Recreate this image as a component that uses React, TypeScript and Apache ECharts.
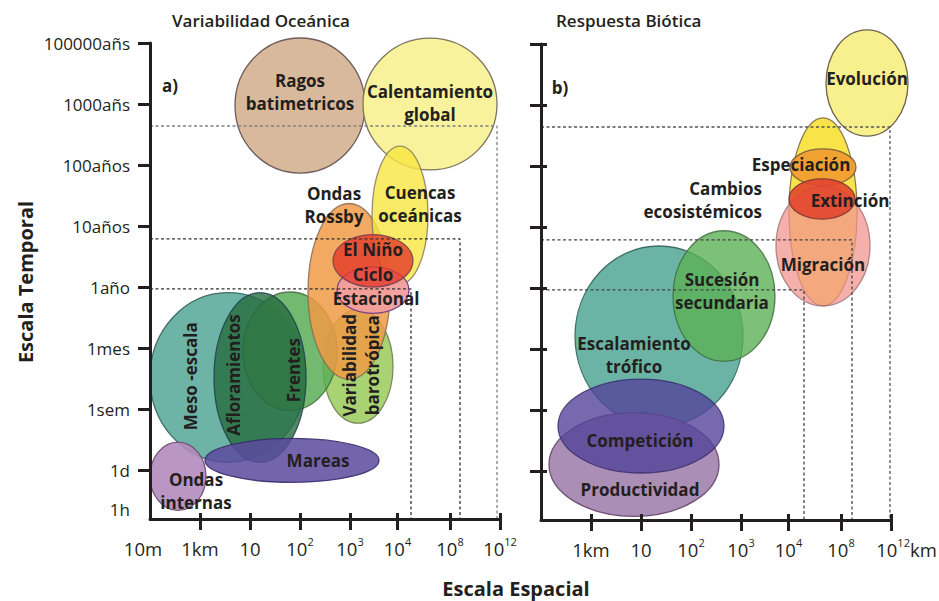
import React, { useEffect, useRef } from 'react';
import * as echarts from 'echarts';

const FONT = '"Open Sans", "Noto Sans", sans-serif';
const INK = '#231f20';

// ---- axes ----
const yTickValues = [1, 2, 3, 4, 5, 6, 7, 8];
const yLabelValues = [0.35, 1, 2, 3, 4, 5, 6, 7, 8];
const yLabels = ['1h', '1d', '1sem', '1mes', '1año', '10años', '100años', '1000añs', '100000añs'];
const xTickValues = [1, 2, 3, 4, 4.95, 6, 7];
const xLabelValuesLeft = [0, 1, 2, 3, 4, 4.95, 6, 7];
const xLabelsLeft = ['10m', '1km', '10', '10^2', '10^3', '10^4', '10^8', '10^12'];
const xLabelValuesRight = [1, 2, 3, 4, 4.95, 6, 7];
const xLabelsRight = ['1km', '10', '10^2', '10^3', '10^4', '10^8', '10^12km'];

// ---- panel a) Variabilidad Oceánica : ellipse extents in axis units ----
const oceanNames = ['Ragos batimetricos', 'Calentamiento global', 'Variabilidad barotrópica', 'Meso-escala', 'Frentes', 'Afloramientos', 'Ondas Rossby', 'Cuencas oceánicas', 'Ciclo Estacional', 'El Niño', 'Mareas', 'Ondas internas'];
const oceanX = [3.0, 5.6, 4.16, 1.56, 2.8, 2.2, 3.98, 5.0, 4.46, 4.46, 2.84, 0.56];
const oceanY = [6.975, 7.0, 2.7, 2.52, 2.95, 2.52, 3.93, 5.18, 3.95, 4.43, 1.16, 0.9];
const oceanRx = [1.3, 1.34, 0.7, 1.56, 0.94, 0.92, 0.82, 0.56, 0.72, 0.8, 1.74, 0.56];
const oceanRy = [1.107, 1.08, 0.93, 1.39, 0.97, 1.39, 1.44, 1.13, 0.38, 0.43, 0.36, 0.56];
const oceanFill = ['#D9B99B', '#F8F29C', '#A9D372', '#6DB4A6', '#5BAE57', '#256B3E', '#F09A45', '#F7E640', '#F29E9C', '#E5392B', '#5A4A9E', '#B38BBE'];
const oceanStroke = ['#6E5D5D', '#7D7460', '#7A8A5A', '#3F7068', '#3F6A40', '#1E3A50', '#8A6A50', '#7D7460', '#6E3A8A', '#6A3A50', '#35286A', '#6A4A70'];
const oceanAlpha = [1, 1, 1, 1, 0.85, 0.8, 0.85, 0.8, 0.95, 0.8, 0.85, 0.9];

const oceanLabels = ['Ragos\nbatimetricos', 'Calentamiento\nglobal', 'Cuencas\noceánicas', 'Ondas\nRossby', 'El Niño', 'Ciclo', 'Estacional', 'Variabilidad\nbarotrópica', 'Meso -escala', 'Afloramientos', 'Frentes', 'Mareas', 'Ondas\ninternas', 'a)'];
const oceanLabelX = [3.0, 5.6, 5.4, 3.68, 4.46, 4.46, 4.52, 4.22, 0.8, 1.66, 2.86, 3.36, 0.92, 0.4];
const oceanLabelY = [7.2, 7.02, 5.36, 5.34, 4.61, 4.2, 3.82, 2.72, 2.54, 2.56, 2.64, 1.16, 0.66, 7.31];
const oceanLabelAngle = [0, 0, 0, 0, 0, 0, 0, 90, 90, 90, 90, 0, 0, 0];
const oceanLabelAlign = ['center', 'center', 'center', 'center', 'center', 'center', 'center', 'center', 'center', 'center', 'center', 'center', 'center', 'center'];

const oceanGuides = [
  [[0, 6.64], [6.94, 6.64], [6.94, 0.2]],
  [[0, 4.79], [6.2, 4.79], [6.2, 0.2]],
  [[0, 3.97], [5.22, 3.97], [5.22, 0.2]],
];
const oceanGuideColor = ['#808080', '#333333', '#333333'];

// ---- panel b) Respuesta Biótica ----
const bioNames = ['Evolución', 'Especiación (envolvente)', 'Migración', 'Especiación', 'Extinción', 'Escalamiento trófico', 'Sucesión secundaria', 'Productividad', 'Competición'];
const bioX = [6.52, 5.64, 5.64, 5.64, 5.62, 2.36, 3.66, 1.86, 2.0];
const bioY = [7.36, 5.25, 4.69, 5.98, 5.46, 3.21, 3.87, 1.11, 1.74];
const bioRx = [0.82, 0.68, 0.94, 0.66, 0.66, 1.68, 1.02, 1.7, 1.66];
const bioRy = [0.87, 1.54, 0.98, 0.3, 0.33, 1.48, 1.07, 0.85, 0.77];
const bioFill = ['#F8F08C', '#F8E448', '#F2968F', '#F09A2E', '#E2452E', '#6BB4A5', '#5DB055', '#A788B1', '#54449A'];
const bioStroke = ['#6E6450', '#8A7A50', '#9A6A6A', '#7A5A40', '#7A3A3A', '#3F7068', '#3F6A40', '#6A4A70', '#35286A'];
const bioAlpha = [1, 1, 0.75, 0.9, 0.9, 1, 0.8, 0.95, 0.8];

const bioLabels = ['Evolución', 'Especiación', 'Cambios\necosistémicos', 'Extinción', 'Migración', 'Sucesión\nsecundaria', 'Escalamiento\ntrófico', 'Competición', 'Productividad', 'b)'];
const bioLabelX = [6.52, 5.2, 4.42, 6.18, 5.64, 3.62, 1.86, 1.98, 1.98, 0.38];
const bioLabelY = [7.44, 6.02, 5.44, 5.43, 4.39, 3.95, 2.9, 1.51, 0.7, 7.28];
const bioLabelAngle = [0, 0, 0, 0, 0, 0, 0, 0, 0, 0];
const bioLabelAlign = ['center', 'center', 'right', 'center', 'center', 'center', 'center', 'center', 'center', 'center'];

const bioGuides = [
  [[0, 6.64], [6.98, 6.64], [6.98, 0.2]],
  [[0, 4.79], [6.22, 4.79], [6.22, 0.2]],
  [[0, 3.97], [5.26, 3.97], [5.26, 0.2]],
];
const bioGuideColor = ['#555555', '#444444', '#444444'];

function xFormatter(labels: string[], values: number[]) {
  return (v: number) => {
    const i = values.findIndex((p) => Math.abs(p - v) < 1e-6);
    if (i < 0) return '';
    const t = labels[i];
    const m = t.match(/^(\d+)\^(\d+)(.*)$/);
    if (!m) return v === 0 ? `{n|${t}}{q|}` : `{n|${t}}`;
    return (m[3] ? '{p|}' : '') + `{n|${m[1]}}{s|${m[2]}}` + (m[3] ? `{n|${m[3]}}` : '');
  };
}

const xRich = {
  n: { fontSize: 18.5, fontFamily: FONT, color: INK, lineHeight: 24 },
  s: { fontSize: 11, fontFamily: FONT, color: INK, lineHeight: 14, verticalAlign: 'top' },
  p: { width: 31 },
  q: { width: 14 },
};

function ellipseRenderer(fills: string[], strokes: string[], alphas: number[]) {
  return (params: any, api: any) => {
    const i = params.dataIndex;
    const c = api.coord([api.value(0), api.value(1)]);
    const s = api.size([api.value(2), api.value(3)]);
    return {
      type: 'ellipse',
      shape: { cx: c[0], cy: c[1], rx: s[0], ry: s[1] },
      style: { fill: fills[i], stroke: strokes[i], lineWidth: 1.3, opacity: alphas[i] },
    };
  };
}

function labelRenderer(texts: string[], angles: number[], aligns: string[]) {
  return (params: any, api: any) => {
    const i = params.dataIndex;
    const c = api.coord([api.value(0), api.value(1)]);
    return {
      type: 'text',
      x: c[0],
      y: c[1],
      rotation: (angles[i] * Math.PI) / 180,
      style: {
        text: texts[i],
        fill: INK,
        fontSize: 17,
        fontWeight: 'bold',
        fontFamily: FONT,
        align: aligns[i],
        verticalAlign: 'middle',
        lineHeight: 23,
      },
    };
  };
}

function axisBase(gridIndex: number) {
  return {
    gridIndex,
    type: 'value' as const,
    min: 0,
    max: 7,
    splitLine: { show: false },
  };
}

export default function App() {
  const ref = useRef<HTMLDivElement>(null);
  useEffect(() => {
    if (!ref.current) return;
    const chart = echarts.init(ref.current, undefined, { renderer: 'svg' });
    const lineStyle = { color: INK, width: 3 };

    const guideSeries = (guides: number[][][], colors: string[], xi: number, yi: number) =>
      guides.map((g, k) => ({
        type: 'line',
        xAxisIndex: xi,
        yAxisIndex: yi,
        data: g,
        symbol: 'none',
        silent: true,
        z: 3,
        lineStyle: { color: colors[k], width: 1.3, type: [3, 2.5] },
      }));

    const option: any = {
      animation: false,
      backgroundColor: '#ffffff',
      title: [
        { text: 'Variabilidad Oceánica', left: 172, top: 12, padding: 0, textStyle: { fontFamily: FONT, fontSize: 17, fontWeight: 600, color: INK } },
        { text: 'Respuesta Biótica', left: 556, top: 12, padding: 0, textStyle: { fontFamily: FONT, fontSize: 17, fontWeight: 600, color: INK } },
      ],
      grid: [
        { left: 150, top: 43, width: 350, height: 476, outerBoundsMode: 'none' },
        { left: 541, top: 44, width: 350, height: 476, outerBoundsMode: 'none' },
      ],
      xAxis: [
        {
          ...axisBase(0),
          position: 'bottom',
          z: 5,
          axisLine: { show: true, onZero: false, lineStyle },
          axisTick: { show: true, customValues: xTickValues, length: 11, lineStyle },
          axisLabel: { customValues: xLabelValuesLeft, formatter: xFormatter(xLabelsLeft, xLabelValuesLeft), rich: xRich, margin: 17 },
        },
        {
          ...axisBase(0),
          position: 'bottom',
          offset: 0,
          z: 5,
          axisLine: { show: false },
          axisTick: { show: true, inside: true, customValues: xTickValues, length: 6, lineStyle },
          axisLabel: { show: false },
        },
        {
          ...axisBase(1),
          position: 'bottom',
          z: 5,
          axisLine: { show: true, onZero: false, lineStyle },
          axisTick: { show: true, customValues: xTickValues, length: 11, lineStyle },
          axisLabel: { customValues: xLabelValuesRight, formatter: xFormatter(xLabelsRight, xLabelValuesRight), rich: xRich, margin: 17 },
        },
        {
          ...axisBase(1),
          position: 'bottom',
          offset: 0,
          z: 5,
          axisLine: { show: false },
          axisTick: { show: true, inside: true, customValues: xTickValues, length: 6, lineStyle },
          axisLabel: { show: false },
        },
      ],
      yAxis: [
        {
          gridIndex: 0,
          type: 'value',
          min: 0.2,
          max: 8,
          position: 'left',
          z: 5,
          splitLine: { show: false },
          axisLine: { show: true, onZero: false, lineStyle },
          axisTick: { show: true, customValues: yTickValues, length: 12, lineStyle },
          axisLabel: {
            customValues: yLabelValues,
            formatter: (v: number) => {
              const i = yLabelValues.findIndex((p) => Math.abs(p - v) < 1e-6);
              return i < 0 ? '' : yLabels[i];
            },
            margin: 20,
            fontSize: 17,
            fontFamily: FONT,
            color: INK,
          },
        },
        {
          gridIndex: 1,
          type: 'value',
          min: 0.2,
          max: 8,
          position: 'left',
          z: 5,
          splitLine: { show: false },
          axisLine: { show: true, onZero: false, lineStyle },
          axisTick: { show: true, customValues: yTickValues, length: 11, lineStyle },
          axisLabel: { show: false },
        },
        {
          gridIndex: 1,
          type: 'value',
          min: 0.2,
          max: 8,
          position: 'left',
          offset: 0,
          z: 5,
          splitLine: { show: false },
          axisLine: { show: false },
          axisTick: { show: true, inside: true, customValues: yTickValues, length: 6, lineStyle },
          axisLabel: { show: false },
        },
      ],
      graphic: [
        {
          type: 'text',
          x: 25,
          y: 282,
          rotation: Math.PI / 2,
          style: { text: 'Escala Temporal', fontSize: 20, fontWeight: 'bold', fontFamily: FONT, fill: INK, align: 'center', verticalAlign: 'middle', lineHeight: 22 },
        },
        {
          type: 'text',
          x: 516,
          y: 588,
          style: { text: 'Escala Espacial', fontSize: 20, fontWeight: 'bold', fontFamily: FONT, fill: INK, align: 'center', verticalAlign: 'middle', lineHeight: 20 },
        },
      ],
      series: [
        {
          type: 'custom',
          name: 'Variabilidad Oceánica',
          xAxisIndex: 0,
          yAxisIndex: 0,
          z: 2,
          clip: false,
          silent: true,
          renderItem: ellipseRenderer(oceanFill, oceanStroke, oceanAlpha),
          data: oceanNames.map((n, i) => ({ name: n, value: [oceanX[i], oceanY[i], oceanRx[i], oceanRy[i]] })),
        },
        {
          type: 'custom',
          name: 'Respuesta Biótica',
          xAxisIndex: 2,
          yAxisIndex: 1,
          z: 2,
          clip: false,
          silent: true,
          renderItem: ellipseRenderer(bioFill, bioStroke, bioAlpha),
          data: bioNames.map((n, i) => ({ name: n, value: [bioX[i], bioY[i], bioRx[i], bioRy[i]] })),
        },
        ...guideSeries(oceanGuides, oceanGuideColor, 0, 0),
        ...guideSeries(bioGuides, bioGuideColor, 2, 1),
        {
          type: 'custom',
          xAxisIndex: 0,
          yAxisIndex: 0,
          z: 4,
          clip: false,
          silent: true,
          renderItem: labelRenderer(oceanLabels, oceanLabelAngle, oceanLabelAlign),
          data: oceanLabels.map((_, i) => [oceanLabelX[i], oceanLabelY[i]]),
        },
        {
          type: 'custom',
          xAxisIndex: 2,
          yAxisIndex: 1,
          z: 4,
          clip: false,
          silent: true,
          renderItem: labelRenderer(bioLabels, bioLabelAngle, bioLabelAlign),
          data: bioLabels.map((_, i) => [bioLabelX[i], bioLabelY[i]]),
        },
      ],
    };
    chart.setOption(option);
    return () => chart.dispose();
  }, []);
  return (
    <div
      ref={ref}
      style={{ position: 'fixed', left: 0, top: 0, width: 939, height: 601, background: '#fff' }}
    />
  );
}
